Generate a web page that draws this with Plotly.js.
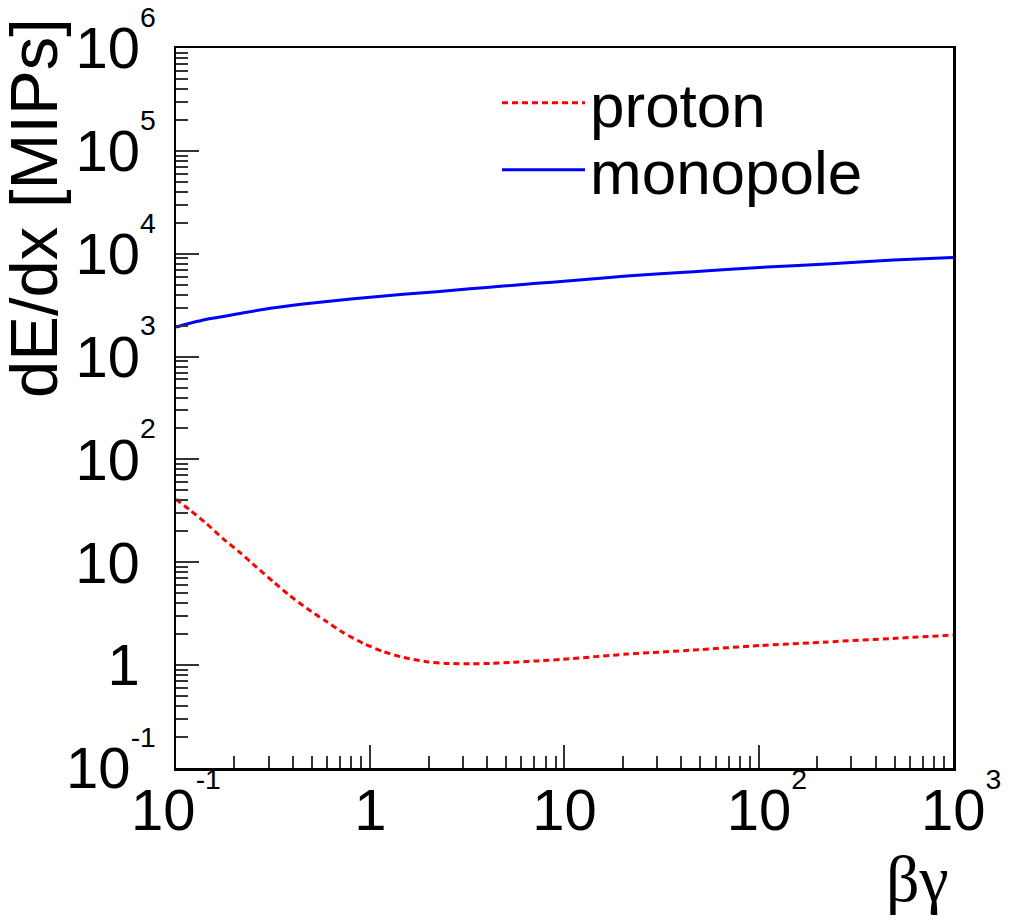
<!DOCTYPE html>
<html>
<head>
<meta charset="utf-8">
<script src="https://cdn.plot.ly/plotly-3.0.1.min.js"></script>
<style>html,body{margin:0;padding:0;background:#fff;}#chart{width:1012px;height:920px;}</style>
</head>
<body>
<div id="chart"></div>
<script>
// beta*gamma samples and dE/dx in MIPs
var betaGammaProton = [0.1, 0.118, 0.144, 0.175, 0.214, 0.26, 0.317, 0.386, 0.471, 0.585, 0.726, 0.92, 1.17, 1.48, 1.95, 2.48, 3.26, 4.13, 5.24, 7.19, 9.86, 20.9, 46, 101, 224, 493, 1000];
var dEdxProton = [41, 32.2, 23.6, 16.9, 12.4, 8.93, 6.47, 4.73, 3.57, 2.71, 2.07, 1.63, 1.35, 1.19, 1.08, 1.04, 1.03, 1.04, 1.06, 1.10, 1.14, 1.28, 1.40, 1.55, 1.68, 1.82, 1.96];

var betaGammaMonopole = [0.1, 0.138, 0.205, 0.305, 0.452, 0.671, 1.0, 1.48, 2.2, 3.26, 4.84, 7.2, 10.3, 20.9, 46, 101, 224, 493, 1000];
var dEdxMonopole = [1940, 2270, 2590, 2945, 3245, 3520, 3770, 4030, 4270, 4570, 4850, 5155, 5430, 6070, 6680, 7370, 7940, 8690, 9200];

var seriesNames = ['proton', 'monopole'];

var xTickVals = [0.1, 1, 10, 100, 1000];
var xTickText = ['10<sup><sup>-1</sup></sup>', '1', '10', '&nbsp;10<sup><sup>2</sup></sup>', '&nbsp;10<sup><sup>3</sup></sup>'];
var yTickVals = [0.1, 1, 10, 100, 1000, 10000, 100000, 1000000];
var yTickText = ['10<sup><sup>-1</sup></sup>', '1&nbsp;', '10&nbsp;', '10<sup><sup>2</sup></sup>', '10<sup><sup>3</sup></sup>', '10<sup><sup>4</sup></sup>', '10<sup><sup>5</sup></sup>', '10<sup><sup>6</sup></sup>'];

var xTitle = 'βγ';
var yTitle = 'dE/dx [MIPs]';

var W = 1012, H = 920;
var mL = 176, mR = 59, mT = 48, mB = 152;
var pw = W - mL - mR, ph = H - mT - mB;
function px2x(p) { return (p - mL) / pw; }
function py2y(p) { return (H - mB - p) / ph; }

var tickFont = {family: 'Liberation Sans, Arial, sans-serif', size: 58, color: '#000'};
var legendFont = {family: 'Liberation Sans, Arial, sans-serif', size: 62, color: '#000'};

var traces = [
  {
    x: betaGammaProton, y: dEdxProton, name: seriesNames[0], legend: 'legend',
    type: 'scatter', mode: 'lines',
    line: {color: '#ff0000', width: 3, dash: '6px,4px', shape: 'spline', smoothing: 0.6}
  },
  {
    x: betaGammaMonopole, y: dEdxMonopole, name: seriesNames[1], legend: 'legend2',
    type: 'scatter', mode: 'lines',
    line: {color: '#0000ff', width: 3, shape: 'spline', smoothing: 0.6}
  }
];

var axisCommon = {
  type: 'log',
  showgrid: false, zeroline: false,
  showline: true, linecolor: '#000', linewidth: 2.5, mirror: true,
  ticks: 'inside', ticklen: 23, tickwidth: 2, tickcolor: '#333',
  tickmode: 'array',
  tickfont: tickFont,
  minor: {ticks: 'inside', ticklen: 12, tickwidth: 2, tickcolor: '#333', dtick: 'D1', showgrid: false}
};

var legendCommon = {
  xanchor: 'left', yanchor: 'top',
  bgcolor: 'rgba(0,0,0,0)', borderwidth: 0,
  itemwidth: 83, font: legendFont
};

var layout = {
  width: W, height: H,
  margin: {l: mL, r: mR, t: mT, b: mB, pad: 0},
  paper_bgcolor: '#fff', plot_bgcolor: '#fff',
  font: {family: 'Liberation Sans, Arial, sans-serif', color: '#000'},
  xaxis: Object.assign({}, axisCommon, {
    range: [-1, 3.0001], tickvals: xTickVals, ticktext: xTickText, ticklabelstandoff: -10
  }),
  yaxis: Object.assign({}, axisCommon, {
    range: [-1.0001, 6.0005], tickvals: yTickVals, ticktext: yTickText, ticklabelstandoff: 6
  }),
  showlegend: true,
  legend: Object.assign({}, legendCommon, {x: px2x(497), y: py2y(56)}),
  legend2: Object.assign({}, legendCommon, {x: px2x(497), y: py2y(123)}),
  annotations: [
    {
      text: yTitle, textangle: -90, showarrow: false,
      xref: 'paper', yref: 'paper', x: px2x(34), y: py2y(16),
      xanchor: 'center', yanchor: 'top',
      font: {family: 'Liberation Sans, Arial, sans-serif', size: 67, color: '#000'}
    },
    {
      text: xTitle, showarrow: false,
      xref: 'paper', yref: 'paper', x: px2x(951), y: py2y(840),
      xanchor: 'right', yanchor: 'top',
      font: {family: 'Liberation Serif, Times New Roman, serif', size: 66, color: '#000'}
    }
  ]
};

Plotly.newPlot('chart', traces, layout, {displayModeBar: false, staticPlot: true});
</script>
</body>
</html>
